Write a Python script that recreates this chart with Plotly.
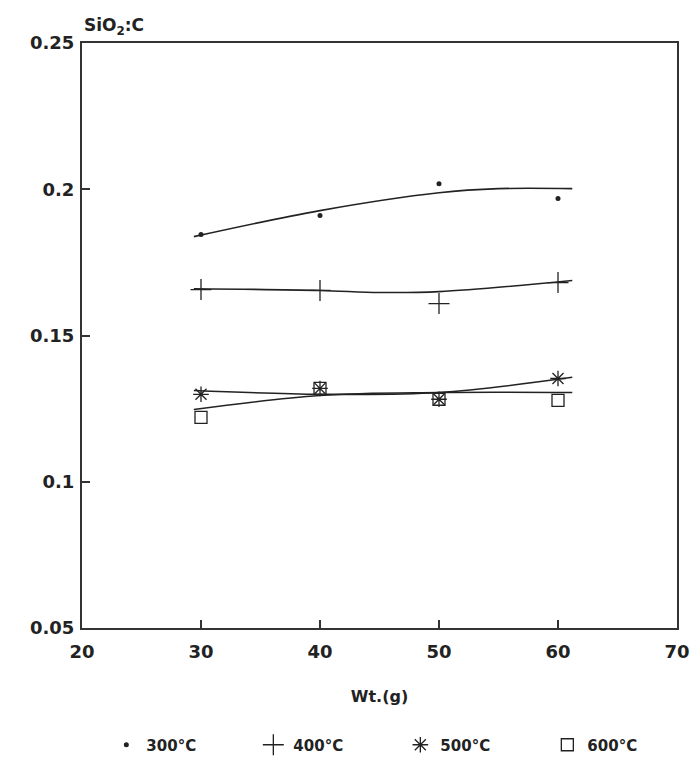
import plotly.graph_objects as go

# Measured points
wt = [30, 40, 50, 60]
s300 = [0.1845, 0.1910, 0.2019, 0.1968]
s400 = [0.1657, 0.1654, 0.1609, 0.1681]
s500 = [0.1299, 0.1319, 0.1282, 0.1353]
s600 = [0.1220, 0.1319, 0.1282, 0.1278]

# Smooth trend curves
c300_x = [29.4, 40, 50, 55, 61.2]
c300_y = [0.1838, 0.1927, 0.1988, 0.2002, 0.2002]
c400_x = [29.4, 40, 45, 50, 61.2]
c400_y = [0.1660, 0.1654, 0.1647, 0.1650, 0.1688]
c500_x = [29.4, 40, 50, 61.2]
c500_y = [0.1312, 0.1299, 0.1305, 0.1357]
c600_x = [29.4, 40, 50, 61.2]
c600_y = [0.1247, 0.1295, 0.1305, 0.1305]

labels = ["300°C", "400°C", "500°C", "600°C"]
x_ticks = [20, 30, 40, 50, 60, 70]
y_ticks = [0.05, 0.1, 0.15, 0.2, 0.25]

INK = "#222222"
FONT = "DejaVu Sans"

fig = go.Figure()

for cx, cy in [(c300_x, c300_y), (c400_x, c400_y), (c500_x, c500_y), (c600_x, c600_y)]:
    fig.add_trace(go.Scatter(x=cx, y=cy, mode="lines", line=dict(color=INK, width=1.6, shape="spline"),
                             showlegend=False, hoverinfo="skip"))

styles = [
    dict(symbol="circle", size=5, color=INK),
    dict(symbol="cross-thin", size=15, color=INK, line=dict(color=INK, width=1.3)),
    dict(symbol="asterisk", size=13, color=INK, line=dict(color=INK, width=1.3)),
    dict(symbol="square-open", size=12, color=INK, line=dict(color=INK, width=1.3)),
]
for ys, lab, st in zip([s300, s400, s500, s600], labels, styles):
    fig.add_trace(go.Scatter(x=wt, y=ys, mode="markers", name=lab, marker=st))

fig.update_layout(
    width=700, height=767,
    margin=dict(l=82, r=23, t=43, b=139, autoexpand=False),
    paper_bgcolor="white", plot_bgcolor="white",
    font=dict(family=FONT, color=INK, size=16),
    showlegend=True,
    legend=dict(orientation="h", x=0.535, xanchor="center", y=-0.2, yanchor="middle",
                font=dict(family=FONT, size=15, weight="bold", color=INK),
                entrywidth=102, entrywidthmode="pixels", tracegroupgap=0),
    annotations=[
        dict(text="SiO<sub>2</sub>:C", x=0, xref="paper", xanchor="left", y=1, yref="paper",
             yanchor="bottom", yshift=3, showarrow=False,
             font=dict(family=FONT, size=17, weight="bold", color=INK)),
    ],
)
fig.update_xaxes(
    range=[20, 70], tickvals=x_ticks, showgrid=False, zeroline=False,
    showline=True, mirror=True, linecolor="#333333", linewidth=2,
    ticks="inside", ticklen=8, tickwidth=1.5, tickcolor="#333333",
    ticklabelstandoff=6,
    tickfont=dict(family=FONT, size=18, weight="bold", color=INK),
    title=dict(text="Wt.(g)", standoff=30, font=dict(family=FONT, size=16, weight="bold", color=INK)),
)
fig.update_yaxes(
    range=[0.05, 0.25], tickvals=y_ticks, showgrid=False, zeroline=False,
    showline=True, mirror=True, linecolor="#333333", linewidth=2,
    ticks="inside", ticklen=8, tickwidth=1.5, tickcolor="#333333",
    ticklabelstandoff=2,
    tickfont=dict(family=FONT, size=18, weight="bold", color=INK),
)

fig.write_html("out.html")
